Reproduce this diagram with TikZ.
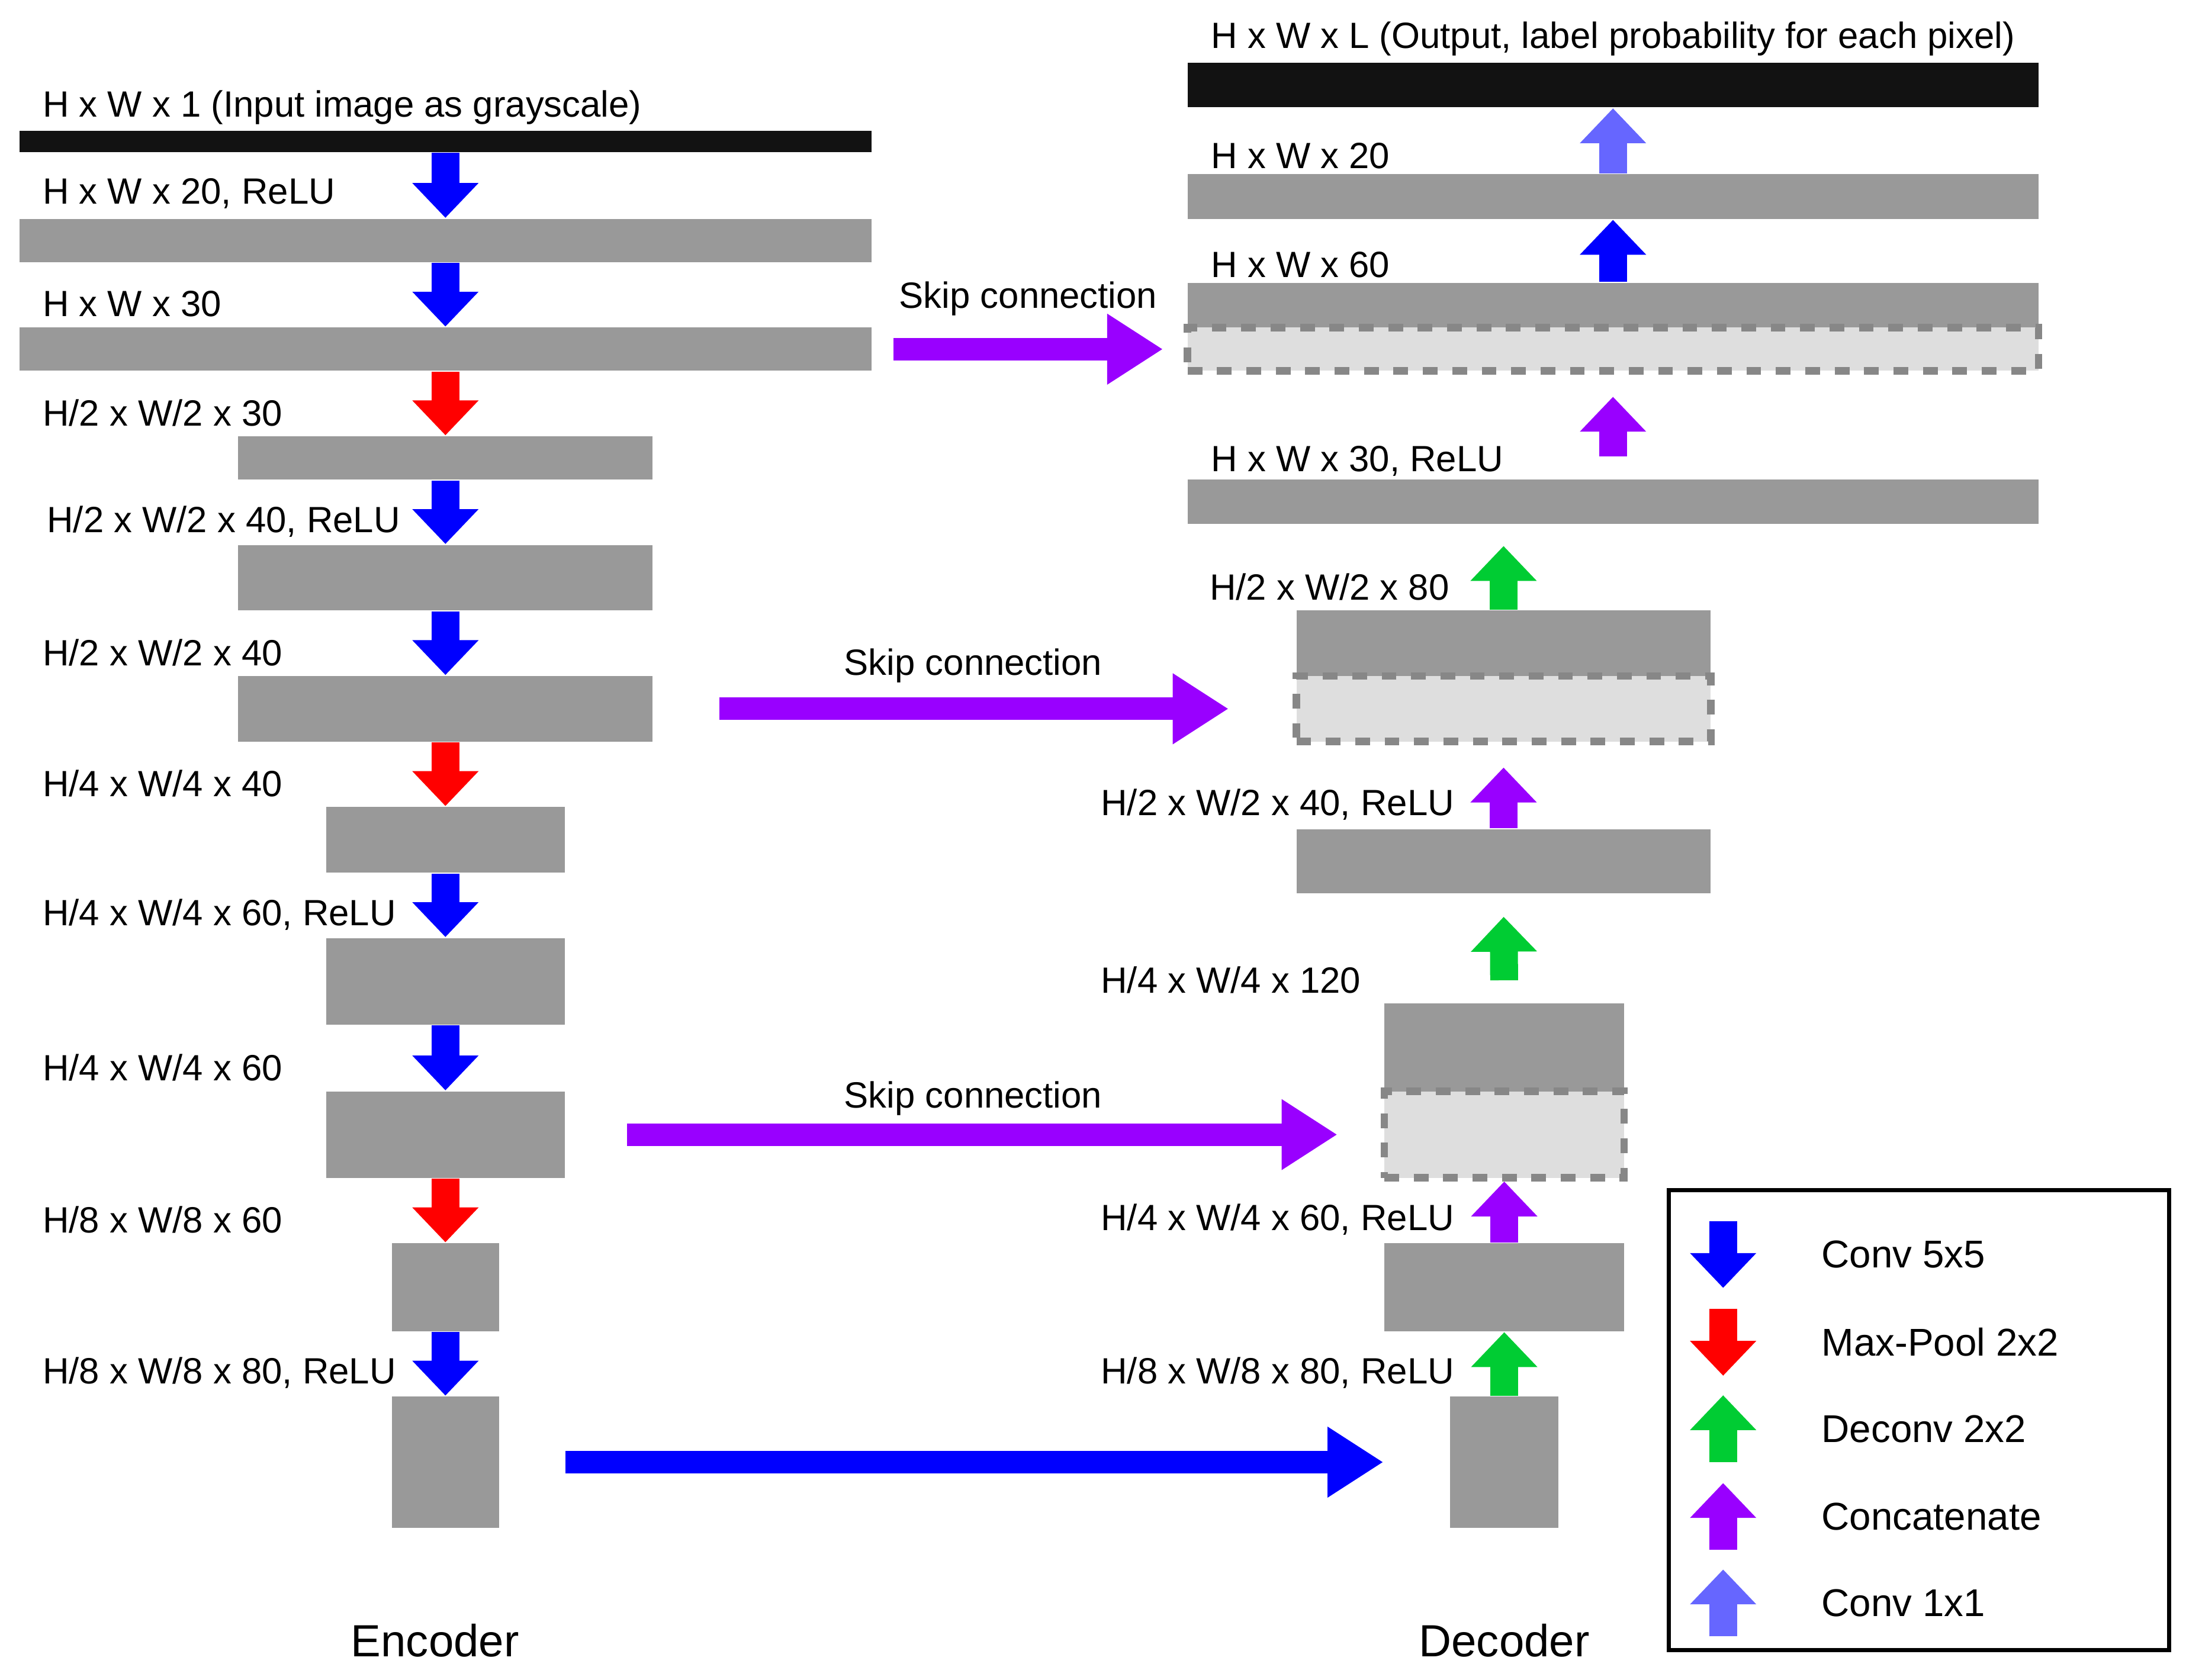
\documentclass[tikz,border=0pt]{standalone}
\usepackage{fontspec}
\setmainfont{Liberation Sans}
\usetikzlibrary{arrows.meta}

\definecolor{cblue}{HTML}{0000FF}
\definecolor{cred}{HTML}{FF0000}
\definecolor{cgreen}{HTML}{00CC33}
\definecolor{cpurple}{HTML}{9900FF}
\definecolor{clight}{HTML}{6666FF}

\tikzset{
  bar/.style={draw=none,fill=black!40,inner sep=0pt},
  cat/.style={draw=black!47,dashed,line width=1.5pt,fill=black!13,inner sep=0pt},
  lbl/.style={anchor=west,inner sep=0pt,text=black,font=\fontsize{7.45}{9}\selectfont},
  flow/.style={line width=0.2cm,-{Triangle[width=0.46cm,length=0.25cm]}},
  skip/.style={line width=0.16cm,-{Triangle[width=0.48cm,length=0.4cm]}},
}

\begin{document}
\begin{tikzpicture}[x=0.01cm,y=-0.01cm]
  \useasboundingbox (0,0) rectangle (1568,1205);

  % encoder
  \node[bar,fill=black!93,minimum width=6.11cm,minimum height=0.15cm] (in) at (319.5,101.5) {};
  \node[bar,minimum width=6.11cm,minimum height=0.31cm] (e1) at (319.5,172.5) {};
  \node[bar,minimum width=6.11cm,minimum height=0.31cm] (e2) at (319.5,250.5) {};
  \node[bar,minimum width=2.97cm,minimum height=0.31cm] (e3) at (319.5,328.5) {};
  \node[bar,minimum width=2.97cm,minimum height=0.47cm] (e4) at (319.5,414.5) {};
  \node[bar,minimum width=2.97cm,minimum height=0.47cm] (e5) at (319.5,508.5) {};
  \node[bar,minimum width=1.71cm,minimum height=0.47cm] (e6) at (319.5,602.5) {};
  \node[bar,minimum width=1.71cm,minimum height=0.62cm] (e7) at (319.5,704) {};
  \node[bar,minimum width=1.71cm,minimum height=0.62cm] (e8) at (319.5,814) {};
  \node[bar,minimum width=0.77cm,minimum height=0.63cm] (e9) at (319.5,923.5) {};
  \node[bar,minimum width=0.77cm,minimum height=0.94cm] (e10) at (319.5,1049) {};

  \node[lbl] at (30,77) {H x W x 1 (Input image as grayscale)};
  \node[lbl] at (30,139) {H x W x 20, ReLU};
  \node[lbl] at (30,218) {H x W x 30};
  \node[lbl] at (30,296) {H/2 x W/2 x 30};
  \node[lbl] at (33,374) {H/2 x W/2 x 40, ReLU};
  \node[lbl] at (30,468) {H/2 x W/2 x 40};
  \node[lbl] at (30,562) {H/4 x W/4 x 40};
  \node[lbl] at (30,656) {H/4 x W/4 x 60, ReLU};
  \node[lbl] at (30,766) {H/4 x W/4 x 60};
  \node[lbl] at (30,875) {H/8 x W/8 x 60};
  \node[lbl] at (30,985) {H/8 x W/8 x 80, ReLU};

  \draw[flow,cblue] (in.south) -- (e1.north);
  \draw[flow,cblue] (e1.south) -- (e2.north);
  \draw[flow,cred] (e2.south) -- (e3.north);
  \draw[flow,cblue] (e3.south) -- (e4.north);
  \draw[flow,cblue] (e4.south) -- (e5.north);
  \draw[flow,cred] (e5.south) -- (e6.north);
  \draw[flow,cblue] (e6.south) -- (e7.north);
  \draw[flow,cblue] (e7.south) -- (e8.north);
  \draw[flow,cred] (e8.south) -- (e9.north);
  \draw[flow,cblue] (e9.south) -- (e10.north);

  % decoder
  \node[bar,fill=black!93,minimum width=6.10cm,minimum height=0.32cm] (out) at (1157,61) {};
  \node[bar,minimum width=6.10cm,minimum height=0.32cm] (d20) at (1157,141) {};
  \node[bar,minimum width=6.10cm,minimum height=0.32cm] (d60) at (1157,219) {};
  \node[cat,minimum width=6.10cm,minimum height=0.31cm] (c1) at (1157,250.5) {};
  \node[bar,minimum width=6.10cm,minimum height=0.32cm] (d30) at (1157,360) {};
  \node[bar,minimum width=2.97cm,minimum height=0.47cm] (d80) at (1078.5,461.5) {};
  \node[cat,minimum width=2.97cm,minimum height=0.47cm] (c2) at (1078.5,508.5) {};
  \node[bar,minimum width=2.97cm,minimum height=0.46cm] (d40) at (1078.5,618) {};
  \node[bar,minimum width=1.72cm,minimum height=0.63cm] (d120) at (1079,751.5) {};
  \node[cat,minimum width=1.72cm,minimum height=0.62cm] (c3) at (1079,814) {};
  \node[bar,minimum width=1.72cm,minimum height=0.63cm] (d60r) at (1079,923.5) {};
  \node[bar,minimum width=0.78cm,minimum height=0.94cm] (d80r) at (1079,1049) {};

  \node[lbl] at (868,28) {H x W x L (Output, label probability for each pixel)};
  \node[lbl] at (868,112) {H x W x 20};
  \node[lbl] at (868,190) {H x W x 60};
  \node[lbl] at (868,331) {H x W x 30, ReLU};
  \node[lbl] at (867,421) {H/2 x W/2 x 80};
  \node[lbl] at (789,577) {H/2 x W/2 x 40, ReLU};
  \node[lbl] at (789,703) {H/4 x W/4 x 120};
  \node[lbl] at (789,875) {H/4 x W/4 x 60, ReLU};
  \node[lbl] at (789,985) {H/8 x W/8 x 80, ReLU};

  \draw[flow,cgreen] (d80r.north) -- (d60r.south);
  \draw[flow,cpurple] (d60r.north) -- (c3.south);
  \draw[flow,cgreen,shorten <=0.16cm,shorten >=0.16cm] (d120.north) -- (d40.south);
  \draw[flow,cpurple,shorten >=0.16cm] (d40.north) -- (c2.south);
  \draw[flow,cgreen,shorten >=0.15cm] (d80.north) -- (d80.north |- d30.south);
  \draw[flow,cpurple,shorten <=0.16cm,shorten >=0.16cm] (d30.north) -- (c1.south);
  \draw[flow,cblue] (d60.north) -- (d20.south);
  \draw[flow,clight] (d20.north) -- (out.south);

  % skip connections
  \draw[skip,cpurple,shorten <=0.15cm,shorten >=0.15cm] (e2.east) -- node[lbl,anchor=center,yshift=0.36cm] {Skip connection} (c1.west);
  \draw[skip,cpurple,shorten <=0.47cm,shorten >=0.46cm] (e5.east) -- node[lbl,anchor=center,yshift=0.31cm] {Skip connection} (c2.west);
  \draw[skip,cpurple,shorten <=0.44cm,shorten >=0.31cm] (e8.east) -- node[lbl,anchor=center,yshift=0.26cm] {Skip connection} (c3.west);
  \draw[skip,cblue,shorten <=0.47cm,shorten >=0.47cm] (e10.east) -- (d80r.west);

  \node[font=\fontsize{9.2}{11}\selectfont] (enc) at (312,1177) {Encoder};
  \node[font=\fontsize{9.2}{11}\selectfont] (dec) at (1079,1177) {Decoder};

  % legend
  \draw[line width=0.03cm] (1197,854) rectangle (1556,1184);
  \foreach \c/\y/\t in {cblue/900/Conv 5x5,cred/963/Max-Pool 2x2}{
    \coordinate (a) at (1236,\y-24);
    \coordinate (b) at (1236,\y+24);
    \draw[flow,\c] (a) -- (b);
    \node[lbl,font=\fontsize{7.9}{9}\selectfont] at (1306,\y) {\t};
  }
  \foreach \c/\y/\t in {cgreen/1025/Deconv 2x2,cpurple/1088/Concatenate,clight/1150/Conv 1x1}{
    \coordinate (a) at (1236,\y-24);
    \coordinate (b) at (1236,\y+24);
    \draw[flow,\c] (b) -- (a);
    \node[lbl,font=\fontsize{7.9}{9}\selectfont] at (1306,\y) {\t};
  }
\end{tikzpicture}
\end{document}
